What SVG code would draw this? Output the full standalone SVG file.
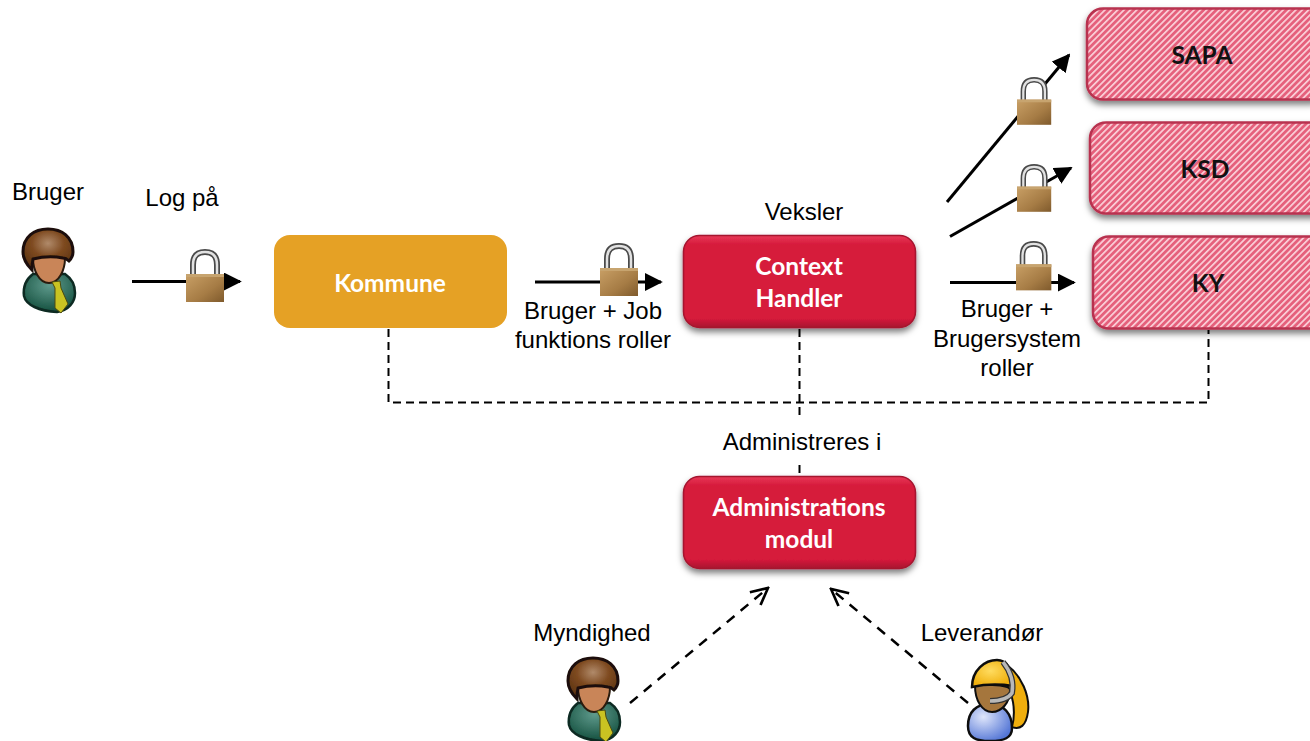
<svg xmlns="http://www.w3.org/2000/svg" width="1310" height="741" viewBox="0 0 1310 741">
<style>
.l{font:24px "Liberation Sans",Arial,sans-serif;fill:#000;text-anchor:middle}
.b{font:bold 24.500px Lato,"Open Sans",sans-serif;text-anchor:middle}
.w{fill:#fff}
.k{fill:#111}
.red{fill:url(#redg);stroke:#a5142f;stroke-width:1.5;filter:url(#sh)}
.hat{fill:url(#hatch);stroke:#b8324f;stroke-width:2.5;filter:url(#sh)}
.c{fill:none;stroke:#000;stroke-width:3}
.d{fill:none;stroke:#000;stroke-width:2;stroke-dasharray:8 5}
.da{fill:none;stroke:#000;stroke-width:2.5;stroke-dasharray:10 8}
</style>
<defs>
<filter id="sh" x="-5%" y="-10%" width="110%" height="125%"><feDropShadow dx="0" dy="4" stdDeviation="3" flood-color="#000" flood-opacity=".5"/></filter>
<filter id="soft"><feGaussianBlur stdDeviation=".5"/></filter>
<linearGradient id="redg" x1="0" y1="0" x2="0" y2="1"><stop offset="0" stop-color="#e83a58"/><stop offset=".1" stop-color="#d61a3b"/><stop offset=".9" stop-color="#d61a3b"/><stop offset="1" stop-color="#a81530"/></linearGradient>
<pattern id="hatch" width="4.500" height="4.500" patternUnits="userSpaceOnUse" patternTransform="rotate(-45)"><rect width="4.500" height="4.500" fill="#e5617b"/><rect width="4.500" height="1.700" fill="#fbd0d9"/></pattern>
<linearGradient id="brass" x1="0" y1="0" x2="1" y2="1"><stop offset="0" stop-color="#c9a066"/><stop offset=".6" stop-color="#a67c45"/><stop offset="1" stop-color="#7f5a2c"/></linearGradient>
<radialGradient id="hair" cx=".5" cy=".35" r=".65"><stop offset="0" stop-color="#b08a6a"/><stop offset=".5" stop-color="#7e4a20"/><stop offset="1" stop-color="#5c3312"/></radialGradient>
<radialGradient id="suit" cx=".5" cy=".3" r=".7"><stop offset="0" stop-color="#5f9a8c"/><stop offset="1" stop-color="#14503f"/></radialGradient>
<radialGradient id="blue" cx=".35" cy=".35" r=".7"><stop offset="0" stop-color="#dfe6fb"/><stop offset="1" stop-color="#5577d6"/></radialGradient>
<radialGradient id="gold" cx=".45" cy=".4" r=".6"><stop offset="0" stop-color="#ffdc60"/><stop offset="1" stop-color="#efae0a"/></radialGradient>
<marker id="tri" viewBox="0 0 10 10" refX="9" refY="5" markerWidth="6" markerHeight="6" markerUnits="strokeWidth" orient="auto"><path d="M0 0L10 5L0 10z" fill="#000"/></marker>
<marker id="open" viewBox="0 0 12 12" refX="11" refY="6" markerWidth="8" markerHeight="8" markerUnits="strokeWidth" orient="auto"><path d="M1 1L11 6L1 11" fill="none" stroke="#000" stroke-width="1.6"/></marker>
<symbol id="lock" width="38" height="52" viewBox="0 0 38 52" overflow="visible">
<path d="M7 26V15C7 5 12 2 19 2S31 5 31 15V26Z" fill="#fff"/>
<path d="M7 26V15C7 5 12 2 19 2S31 5 31 15V26" fill="none" stroke="#4a4a4a" stroke-width="6"/>
<path d="M7 26V15C7 5 12 2 19 2S31 5 31 15V26" fill="none" stroke="#e2e2e2" stroke-width="2.500"/>
<rect x="0" y="24" width="38" height="28" fill="url(#brass)"/>
<rect x="0" y="24" width="38" height="3" fill="#c7a46f"/>
</symbol>
<symbol id="man" width="60" height="90" viewBox="0 0 60 90" overflow="visible">
<g filter="url(#soft)">
<path d="M14 46C6 52 4 60 5 68C7 77 20 83 38 84C50 82 56 74 56 65C56 56 52 50 46 46Z" fill="url(#suit)" stroke="#0d2b24" stroke-width="2.500"/>
<path d="M14 30C14 24 46 24 46 30C46 42 40 55 30 55S14 42 14 30Z" fill="#c98558" stroke="#2a1a10" stroke-width="2"/>
<path d="M33 54L41 53L42 60L49 76L42 85L36 80L36 60Z" fill="#c9c324" stroke="#4c4a10" stroke-width="1"/>
<path d="M4 24C4 9 15 1 29 1S54 9 54 24C54 28 52 31 50 33C48 31 46 30 44 30C34 28 22 29 14 31C13 35 13 39 13 42C8 37 4 31 4 24Z" fill="url(#hair)" stroke="#1c1008" stroke-width="3"/>
</g>
</symbol>
</defs>

<g id="connectors">
<path class="c" d="M132 281.500H240" marker-end="url(#tri)"/>
<path class="c" d="M535 282H661" marker-end="url(#tri)"/>
<path class="c" d="M950 282.500H1074" marker-end="url(#tri)"/>
<path class="c" d="M947 202L1069 55" marker-end="url(#tri)"/>
<path class="c" d="M950 236.500L1071 168" marker-end="url(#tri)"/>
<path class="d" d="M388.500 329V402.500H1208.500V330"/>
<path class="d" d="M799.500 329V415"/>
<path class="d" d="M799.500 465V477"/>
<path class="da" d="M630 703L768 588" marker-end="url(#open)"/>
<path class="da" d="M968 703L831 589" marker-end="url(#open)"/>
</g>

<g id="lock1"><use href="#lock" x="186" y="250"/></g>
<g id="lock2"><use href="#lock" x="600" y="244"/></g>
<g id="lock3"><g transform="translate(1016 242) scale(.93)"><use href="#lock"/></g></g>
<g id="lock4"><g transform="translate(1017 165) scale(.9)"><use href="#lock"/></g></g>
<g id="lock5"><g transform="translate(1017 78) scale(.9)"><use href="#lock"/></g></g>

<g id="kommune"><rect x="274" y="235" width="233" height="93" rx="16" fill="#e5a125"/><text class="b w" x="390" y="292">Kommune</text></g>
<g id="context"><rect class="red" x="683.500" y="235.500" width="232" height="92" rx="16"/><text class="b w" x="799" y="275">Context</text><text class="b w" x="799" y="307">Handler</text></g>
<g id="admin"><rect class="red" x="683.500" y="476.500" width="232" height="92" rx="16"/><text class="b w" x="799" y="516">Administrations</text><text class="b w" x="799" y="548">modul</text></g>
<g id="sapa"><rect class="hat" x="1087" y="8.500" width="240" height="91" rx="16"/><text class="b k" x="1202" y="64">SAPA</text></g>
<g id="ksd"><rect class="hat" x="1090" y="122.500" width="240" height="91" rx="16"/><text class="b k" x="1205" y="178">KSD</text></g>
<g id="ky"><rect class="hat" x="1093" y="236.500" width="240" height="92" rx="16"/><text class="b k" x="1208" y="292">KY</text></g>

<g id="bruger"><use href="#man" x="19" y="228"/><text class="l" x="48" y="200">Bruger</text></g>
<g id="myndighed"><use href="#man" x="564" y="657"/><text class="l" x="592" y="641">Myndighed</text></g>
<g id="leverandor">
<g filter="url(#soft)">
<path d="M968 726C968 712 976 704 990 704C1004 704 1012 714 1012 728C1012 738 1004 741 990 741C976 741 968 738 968 726Z" fill="url(#blue)" stroke="#111" stroke-width="2.500"/>
<path d="M1006 664C1022 676 1030 696 1028 712C1026 726 1020 730 1012 727C1016 712 1014 692 1002 678Z" fill="#efae0a" stroke="#111" stroke-width="2"/>
<path d="M975 686C975 684 1010 684 1010 690C1010 702 1002 712 992 712C982 712 975 700 975 686Z" fill="#a5763e" stroke="#111" stroke-width="2"/>
<path d="M972 687C972 670 985 660 997 660C1006 660 1012 668 1013 686C1000 684 986 684 972 687Z" fill="url(#gold)" stroke="#111" stroke-width="2.500"/>
<path d="M1003 662C1011 672 1014 682 1012 693C1008 699 1000 701 990 701" fill="none" stroke="#333" stroke-width="6"/>
<path d="M1003 662C1011 672 1014 682 1012 693C1008 699 1000 701 990 701" fill="none" stroke="#b8b8b8" stroke-width="3.500"/>
</g>
<text class="l" x="982" y="641">Leverandør</text>
</g>

<g id="labels">
<text class="l" x="182" y="206">Log på</text>
<text class="l" x="593" y="319">Bruger + Job</text>
<text class="l" x="593" y="348">funktions roller</text>
<text class="l" x="804" y="220">Veksler</text>
<text class="l" x="1007" y="317">Bruger +</text>
<text class="l" x="1007" y="347">Brugersystem</text>
<text class="l" x="1007" y="376">roller</text>
<text class="l" x="802" y="450">Administreres i</text>
</g>
</svg>
